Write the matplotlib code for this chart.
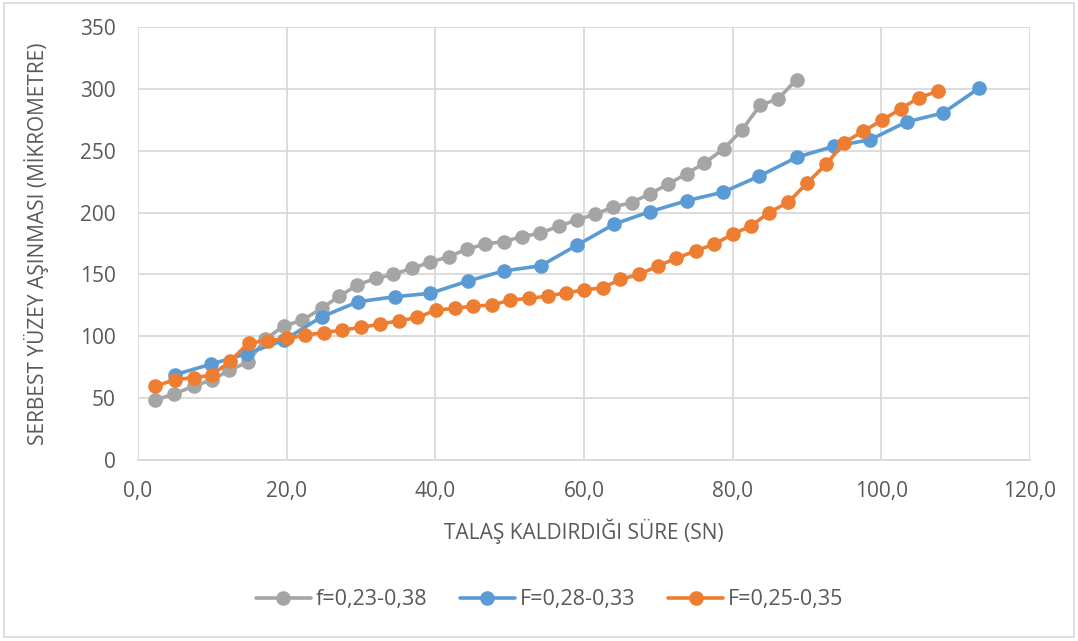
import matplotlib
matplotlib.use("Agg")
import matplotlib.pyplot as plt
from matplotlib.ticker import FuncFormatter, MultipleLocator
from matplotlib.patches import Rectangle

# Flank wear (micrometre) against cutting time (s) for three feed ranges
time_a = [2.3, 4.9, 7.5, 10.0, 12.3, 14.8, 17.1, 19.6, 22.1, 24.7, 27.1, 29.5,
          32.0, 34.3, 36.9, 39.3, 41.8, 44.2, 46.7, 49.2, 51.6, 54.1, 56.6, 59.1,
          61.5, 63.9, 66.4, 68.9, 71.3, 73.8, 76.2, 78.8, 81.2, 83.7, 86.1, 88.6]
wear_a = [48.2, 53.6, 59.6, 65.0, 72.5, 79.3, 97.5, 108.2, 113.0, 122.5, 132.5, 141.4,
          146.8, 150.0, 155.0, 159.8, 164.3, 170.3, 174.6, 176.5, 180.5, 183.3, 189.0, 194.1,
          198.7, 204.4, 208.1, 215.2, 223.0, 231.4, 240.0, 251.5, 266.5, 286.7, 291.9, 307.5]

time_b = [5.0, 9.8, 14.7, 19.7, 24.7, 29.6, 34.6, 39.3, 44.4, 49.2, 54.2, 59.1,
          64.1, 68.9, 73.9, 78.7, 83.6, 88.7, 93.6, 98.5, 103.4, 108.3, 113.2]
wear_b = [69.0, 77.4, 86.0, 97.0, 115.7, 127.9, 132.0, 134.7, 144.7, 152.8, 157.0, 173.8,
          190.8, 200.8, 209.7, 216.5, 229.5, 244.9, 253.5, 258.9, 273.3, 280.5, 300.8]

time_c = [2.3, 5.0, 7.5, 9.9, 12.4, 14.9, 17.5, 20.0, 22.5, 25.0, 27.4, 30.0,
          32.5, 35.1, 37.6, 40.1, 42.6, 45.0, 47.6, 50.1, 52.6, 55.1, 57.6, 60.0,
          62.5, 64.9, 67.4, 70.0, 72.4, 75.0, 77.5, 80.0, 82.5, 84.9, 87.5, 90.0,
          92.6, 95.0, 97.5, 100.1, 102.6, 105.0, 107.6]
wear_c = [59.6, 65.0, 66.6, 68.5, 79.8, 94.7, 96.3, 98.2, 100.9, 103.0, 105.0, 107.1,
          109.8, 112.5, 115.2, 121.2, 122.5, 124.4, 125.2, 129.3, 130.6, 132.5, 135.2, 137.4,
          139.2, 146.0, 150.0, 157.0, 163.0, 169.0, 174.4, 182.5, 189.3, 200.0, 208.4, 223.8,
          239.2, 256.5, 265.6, 274.6, 283.8, 292.7, 298.1]

labels = ["f=0,23-0,38", "F=0,28-0,33", "F=0,25-0,35"]
colors = ["#A5A5A5", "#5B9BD5", "#ED7D31"]

x_title = "TALAŞ KALDIRDIĞI SÜRE (SN)"
y_title = "SERBEST YÜZEY AŞINMASI (MİKROMETRE)"

plt.rcParams["font.family"] = ["Open Sans", "DejaVu Sans"]
text_color = "#595959"
grid_color = "#D9D9D9"

fig = plt.figure(figsize=(10.78, 6.41), dpi=100)
fig.patches.append(Rectangle((0.004, 0.006), 0.992, 0.99, transform=fig.transFigure,
                             fill=False, edgecolor=grid_color, linewidth=1.2))
ax = fig.add_axes([0.128, 0.2824, 0.8275, 0.6755])

series = [(time_a, wear_a), (time_b, wear_b), (time_c, wear_c)]
for i, ((t, w), lab, col) in enumerate(zip(series, labels, colors)):
    ax.plot(t, w, color=col, linewidth=2.6, marker="o", markersize=9.5,
            markeredgecolor=col, label=lab, zorder=3 + i, solid_capstyle="round")

ax.set_xlim(0, 120)
ax.set_ylim(0, 350)
ax.xaxis.set_major_locator(MultipleLocator(20))
ax.yaxis.set_major_locator(MultipleLocator(50))
ax.xaxis.set_major_formatter(FuncFormatter(lambda v, p: f"{v:.1f}".replace(".", ",")))
ax.yaxis.set_major_formatter(FuncFormatter(lambda v, p: f"{v:.0f}"))

ax.grid(True, color=grid_color, linewidth=1.3, zorder=0)
ax.set_axisbelow(True)
for side in ["top", "right", "left"]:
    ax.spines[side].set_visible(False)
ax.spines["bottom"].set_color(grid_color)
ax.spines["bottom"].set_linewidth(1.3)
ax.tick_params(axis="both", length=0, labelsize=15, labelcolor=text_color)
ax.tick_params(axis="x", pad=15)
ax.tick_params(axis="y", pad=16)

ax.set_xlabel(x_title, fontsize=15, color=text_color, labelpad=12)
ax.set_ylabel(y_title, fontsize=15, color=text_color, labelpad=22)

fig.legend(loc="center", bbox_to_anchor=(0.51, 0.064), ncol=3, frameon=False,
           fontsize=15.5, labelcolor=text_color, handlelength=2.55,
           columnspacing=1.5, handletextpad=0.25)

fig.savefig("out.png", dpi=100, facecolor="white")
